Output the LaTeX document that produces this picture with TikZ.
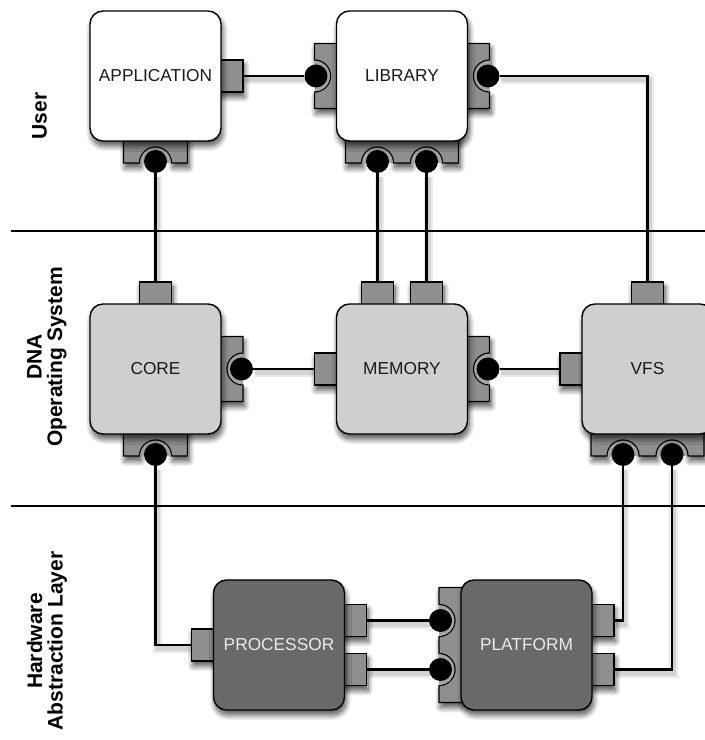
\documentclass[tikz,border=0pt]{standalone}
\usepackage{fontspec}
\setmainfont{Liberation Sans}
\usetikzlibrary{shadows.blur}
\pgfdeclarelayer{bg}
\pgfdeclarelayer{fg}
\pgfsetlayers{bg,main,fg}
\definecolor{osfill}{HTML}{CFCFCF}
\definecolor{halfill}{HTML}{696969}
\definecolor{portfill}{HTML}{8F8F8F}
\definecolor{ringfill}{HTML}{A3A3A3}
\tikzset{
  shad/.style={blur shadow={shadow xshift=1.5pt, shadow yshift=-5pt, shadow blur radius=5.5pt, shadow blur steps=10, shadow opacity=70}},
  box/.style={shad, draw=black, line width=1.4pt, rounded corners=13pt, minimum width=131pt, minimum height=130pt, inner sep=0pt, font=\fontsize{17.3}{20}\selectfont},
  userbox/.style={box, fill=white, text=black!90},
  osbox/.style={box, fill=osfill, text=black!90},
  halbox/.style={box, fill=halfill, text=white!92!black},
  plug/.style={shad, draw=black, line width=1.2pt, fill=portfill, inner sep=0pt, minimum width=32pt, minimum height=32pt},
  sockport/.style={shad, draw=black, line width=1.2pt, fill=portfill},
  dot/.style={circle, fill=black, minimum size=23pt, inner sep=0pt},
  conn/.style={line width=2.6pt, black,
    preaction={draw=black, draw opacity=0.08, line width=9pt, transform canvas={shift={(1.5pt,-4pt)}}},
    preaction={draw=black, draw opacity=0.10, line width=5pt, transform canvas={shift={(1.5pt,-4pt)}}}},
  sepline/.style={line width=1.6pt, black},
  sidelabel/.style={rotate=90, align=center, inner sep=0pt, font=\bfseries\fontsize{21}{20.5}\selectfont}
}
\begin{document}
\begin{tikzpicture}[x=1pt,y=1pt]
\useasboundingbox (0,0) rectangle (705,740);

% separators
\draw[sepline] (11,509) -- (705,509);
\draw[sepline] (11,234) -- (705,234);

% side labels
\node[sidelabel] (lblUser) at (39.5,624) {User};
\node[sidelabel] (lblOS) at (47,383) {DNA\\Operating System};
\node[sidelabel] (lblHAL) at (47,99) {Hardware\\Abstraction Layer};

% plugs
\node[plug] (appP) at (227,664) {};
\node[plug] (coreT) at (155.5,442) {};
\node[plug] (memT1) at (377.5,442) {};
\node[plug] (memT2) at (426.5,442) {};
\node[plug] (memL) at (330.5,371) {};
\node[plug] (vfsT) at (647.5,442) {};
\node[plug] (vfsL) at (576,371) {};
\node[plug] (procL) at (207.5,95) {};
\node[plug] (procR1) at (350.5,119.5) {};
\node[plug] (procR2) at (350.5,70.5) {};
\node[plug] (platR1) at (598,119.5) {};
\node[plug] (platR2) at (598,70.5) {};

% socket ports
% application bottom
\path[sockport] (123.5,609) -- (123.5,577) -- (139.5,577) arc[start angle=180,end angle=0,radius=16] -- (187.5,577) -- (187.5,609) -- cycle;
\begin{scope}\clip (123.5,577) rectangle (187.5,609); \fill[ringfill] (155.5,577) circle (15.2);\end{scope}
% library left
\path[sockport] (346.5,696.5) -- (314.5,696.5) -- (314.5,680) arc[start angle=90,end angle=-90,radius=16] -- (314.5,631.5) -- (346.5,631.5) -- cycle;
\begin{scope}\clip (314.5,631.5) rectangle (346.5,696.5); \fill[ringfill] (314.5,664) circle (15.2);\end{scope}
% library right
\path[sockport] (457.5,631.5) -- (489.5,631.5) -- (489.5,648) arc[start angle=-90,end angle=-270,radius=16] -- (489.5,696.5) -- (457.5,696.5) -- cycle;
\begin{scope}\clip (457.5,631.5) rectangle (489.5,696.5); \fill[ringfill] (489.5,664) circle (15.2);\end{scope}
% library bottom
\path[sockport] (345.5,609) -- (345.5,577) -- (361.5,577) arc[start angle=180,end angle=0,radius=16] -- (410.5,577) arc[start angle=180,end angle=0,radius=16] -- (458.5,577) -- (458.5,609) -- cycle;
\begin{scope}\clip (345.5,577) rectangle (458.5,609); \fill[ringfill] (377.5,577) circle (15.2); \fill[ringfill] (426.5,577) circle (15.2);\end{scope}
% core right
\path[sockport] (211,338.5) -- (243,338.5) -- (243,355) arc[start angle=-90,end angle=-270,radius=16] -- (243,403.5) -- (211,403.5) -- cycle;
\begin{scope}\clip (211,338.5) rectangle (243,403.5); \fill[ringfill] (243,371) circle (15.2);\end{scope}
% core bottom
\path[sockport] (123.5,316) -- (123.5,284) -- (139.5,284) arc[start angle=180,end angle=0,radius=16] -- (187.5,284) -- (187.5,316) -- cycle;
\begin{scope}\clip (123.5,284) rectangle (187.5,316); \fill[ringfill] (155.5,284) circle (15.2);\end{scope}
% memory right
\path[sockport] (457.5,338.5) -- (489.5,338.5) -- (489.5,355) arc[start angle=-90,end angle=-270,radius=16] -- (489.5,403.5) -- (457.5,403.5) -- cycle;
\begin{scope}\clip (457.5,338.5) rectangle (489.5,403.5); \fill[ringfill] (489.5,371) circle (15.2);\end{scope}
% vfs bottom
\path[sockport] (591,316) -- (591,284) -- (607,284) arc[start angle=180,end angle=0,radius=16] -- (656,284) arc[start angle=180,end angle=0,radius=16] -- (704,284) -- (704,316) -- cycle;
\begin{scope}\clip (591,284) rectangle (704,316); \fill[ringfill] (623,284) circle (15.2); \fill[ringfill] (672,284) circle (15.2);\end{scope}
% platform left
\path[sockport] (471,152.5) -- (439,152.5) -- (439,135.5) arc[start angle=90,end angle=-90,radius=16] -- (439,86.5) arc[start angle=90,end angle=-90,radius=16] -- (439,37.5) -- (471,37.5) -- cycle;
\begin{scope}\clip (439,37.5) rectangle (471,152.5); \fill[ringfill] (439,119.5) circle (15.2); \fill[ringfill] (439,70.5) circle (15.2);\end{scope}

% boxes
\node[userbox] (app) at (155.5,664) {APPLICATION};
\node[userbox] (lib) at (402,664) {LIBRARY};
\node[osbox] (core) at (155.5,371) {CORE};
\node[osbox] (mem) at (402,371) {MEMORY};
\node[osbox] (vfs) at (647.5,371) {VFS};
\node[halbox] (proc) at (279,95) {PROCESSOR};
\node[halbox] (plat) at (526.5,95) {PLATFORM};

% socket dots
\begin{pgfonlayer}{fg}
\node[dot] (appB) at (155.5,578.5) {};
\node[dot] (libL) at (316,664) {};
\node[dot] (libR) at (488,664) {};
\node[dot] (libB1) at (377.5,578.5) {};
\node[dot] (libB2) at (426.5,578.5) {};
\node[dot] (coreR) at (241.5,371) {};
\node[dot] (coreB) at (155.5,285.5) {};
\node[dot] (memR) at (488,371) {};
\node[dot] (vfsB1) at (623,285.5) {};
\node[dot] (vfsB2) at (672,285.5) {};
\node[dot] (platL1) at (440.5,119.5) {};
\node[dot] (platL2) at (440.5,70.5) {};
\end{pgfonlayer}

% connectors
\begin{pgfonlayer}{bg}
\draw[conn] (appP) -- (libL);
\draw[conn] (appB) -- (coreT);
\draw[conn] (libB1) -- (memT1);
\draw[conn] (libB2) -- (memT2);
\draw[conn] (libR) -| (vfsT);
\draw[conn] (coreR) -- (memL);
\draw[conn] (memR) -- (vfsL);
\draw[conn] (coreB) |- (procL);
\draw[conn] (procR1) -- (platL1);
\draw[conn] (procR2) -- (platL2);
\draw[conn] (vfsB1) |- (platR1);
\draw[conn] (vfsB2) |- (platR2);
\end{pgfonlayer}
\end{tikzpicture}
\end{document}
